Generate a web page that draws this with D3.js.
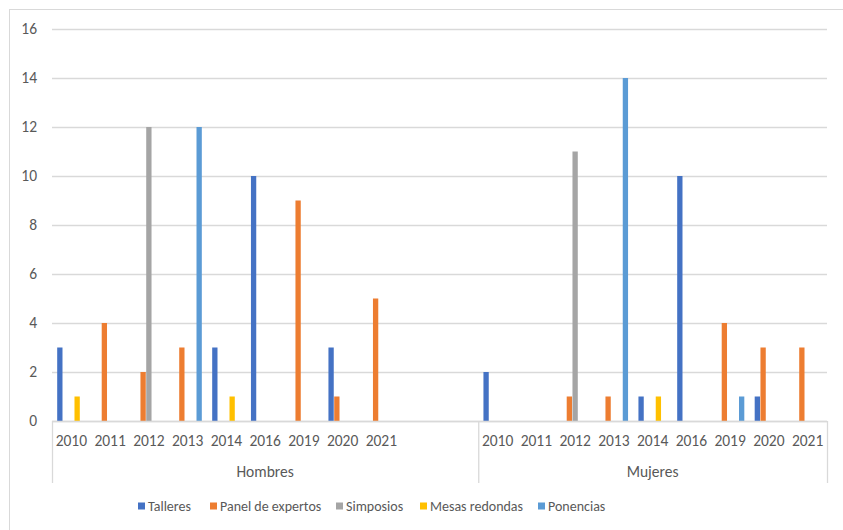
<!DOCTYPE html>
<html>
<head>
<meta charset="utf-8">
<script src="https://cdn.jsdelivr.net/npm/d3@7"></script>
<style>
  body { margin: 0; background: #fff; }
  text { font-family: Carlito, Lato, "Open Sans", sans-serif; fill: #595959; }
</style>
</head>
<body>
<svg id="chart"></svg>
<script>
const groups = ["Hombres", "Mujeres"];
const hombresYears = ["2010", "2011", "2012", "2013", "2014", "2016", "2019", "2020", "2021", "", ""];
const mujeresYears = ["2010", "2011", "2012", "2013", "2014", "2016", "2019", "2020", "2021"];
const seriesNames = ["Talleres", "Panel de expertos", "Simposios", "Mesas redondas", "Ponencias"];
const colors = ["#4472C4", "#ED7D31", "#A5A5A5", "#FFC000", "#5B9BD5"];
const yTicks = [0, 2, 4, 6, 8, 10, 12, 14, 16];

// valores Hombres (sin las dos filas vacías)
const talleresH  = [3, 0, 0, 0, 3, 10, 0, 3, 0];
const panelH     = [0, 4, 2, 3, 0, 0, 9, 1, 5];
const simposiosH = [0, 0, 12, 0, 0, 0, 0, 0, 0];
const mesasH     = [1, 0, 0, 0, 1, 0, 0, 0, 0];
const ponenciasH = [0, 0, 0, 12, 0, 0, 0, 0, 0];
// valores Mujeres
const talleresM  = [2, 0, 0, 0, 1, 10, 0, 1, 0];
const panelM     = [0, 0, 1, 1, 0, 0, 4, 3, 3];
const simposiosM = [0, 0, 11, 0, 0, 0, 0, 0, 0];
const mesasM     = [0, 0, 0, 0, 1, 0, 0, 0, 0];
const ponenciasM = [0, 0, 0, 14, 0, 0, 1, 0, 0];

const width = 843, height = 530;
const margin = {top: 29, right: 16, bottom: 109, left: 52};
const axisFont = 15.5, legendFont = 14;

const svg = d3.select("#chart").attr("width", width).attr("height", height);

// categorías: Hombres (11 filas, 2 vacías) + Mujeres (9)
const cats = [
  ...hombresYears.map((y, i) => ({group: 0, year: y, idx: i})),
  ...mujeresYears.map((y, i) => ({group: 1, year: y, idx: i}))
];
const valuesH = [talleresH, panelH, simposiosH, mesasH, ponenciasH];
const valuesM = [talleresM, panelM, simposiosM, mesasM, ponenciasM];

const x = d3.scaleBand()
  .domain(d3.range(cats.length))
  .range([margin.left, width - margin.right])
  .padding(0);

const xs = d3.scaleBand()
  .domain(seriesNames)
  .range([0, x.bandwidth()])
  .paddingOuter(0.9)
  .paddingInner(0.08);

const y = d3.scaleLinear().domain([0, 16]).range([height - margin.bottom, margin.top]);

// borde del gráfico
svg.append("line").attr("x1", 9).attr("x2", width).attr("y1", 9.5).attr("y2", 9.5)
  .attr("stroke", "#d9d9d9");
svg.append("line").attr("x1", 9.5).attr("x2", 9.5).attr("y1", 9).attr("y2", height)
  .attr("stroke", "#d9d9d9");

// rejilla y eje Y
const yAxis = svg.append("g")
  .attr("transform", `translate(${margin.left},0)`)
  .call(d3.axisLeft(y).tickValues(yTicks).tickSize(-(width - margin.left - margin.right)).tickPadding(15));
yAxis.select(".domain").remove();
yAxis.selectAll(".tick line").attr("stroke", "#d9d9d9").attr("stroke-width", 1.3);
yAxis.selectAll(".tick text").attr("font-size", axisFont).attr("font-family", null).attr("fill", "#595959");

// barras
const barData = [];
cats.forEach((c, ci) => {
  const vals = c.group === 0 ? valuesH : valuesM;
  seriesNames.forEach((s, si) => {
    const v = vals[si][c.idx];
    if (v) barData.push({ci, s, si, v});
  });
});

svg.append("g").selectAll("rect")
  .data(barData)
  .join("rect")
  .attr("x", d => x(d.ci) + xs(d.s))
  .attr("width", xs.bandwidth())
  .attr("y", d => y(d.v))
  .attr("height", d => y(0) - y(d.v))
  .attr("fill", d => colors[d.si]);

// eje X de dos niveles
const axisY = y(0);
const axisBottom = axisY + 62;
svg.append("line")
  .attr("x1", margin.left).attr("x2", width - margin.right)
  .attr("y1", axisY + 0.5).attr("y2", axisY + 0.5)
  .attr("stroke", "#d9d9d9").attr("stroke-width", 1.3);

svg.append("g").selectAll("text")
  .data(cats)
  .join("text")
  .attr("x", (d, i) => x(i) + x.bandwidth() / 2)
  .attr("y", axisY + 20)
  .attr("dy", "0.35em")
  .attr("text-anchor", "middle")
  .attr("font-size", axisFont)
  .text(d => d.year);

const groupSpans = groups.map((g, gi) => {
  const idxs = cats.map((c, i) => c.group === gi ? i : -1).filter(i => i >= 0);
  return {name: g, x0: x(idxs[0]), x1: x(idxs[idxs.length - 1]) + x.bandwidth()};
});

const bounds = [groupSpans[0].x0, groupSpans[1].x0, groupSpans[1].x1];
svg.append("g").selectAll("line")
  .data(bounds)
  .join("line")
  .attr("x1", d => d + 0.5).attr("x2", d => d + 0.5)
  .attr("y1", axisY).attr("y2", axisBottom)
  .attr("stroke", "#d9d9d9").attr("stroke-width", 1.3);

svg.append("g").selectAll("text")
  .data(groupSpans)
  .join("text")
  .attr("x", d => (d.x0 + d.x1) / 2)
  .attr("y", axisY + 51)
  .attr("dy", "0.35em")
  .attr("text-anchor", "middle")
  .attr("font-size", axisFont)
  .text(d => d.name);

// leyenda
const legendX = [138, 210, 336, 420, 538];
const legend = svg.append("g").selectAll("g")
  .data(seriesNames)
  .join("g")
  .attr("transform", (d, i) => `translate(${legendX[i]},506)`);
legend.append("rect")
  .attr("x", 0).attr("y", -3.5)
  .attr("width", 7).attr("height", 7)
  .attr("fill", (d, i) => colors[i]);
legend.append("text")
  .attr("x", 10)
  .attr("dy", "0.35em")
  .attr("font-size", legendFont)
  .text(d => d);
</script>
</body>
</html>
